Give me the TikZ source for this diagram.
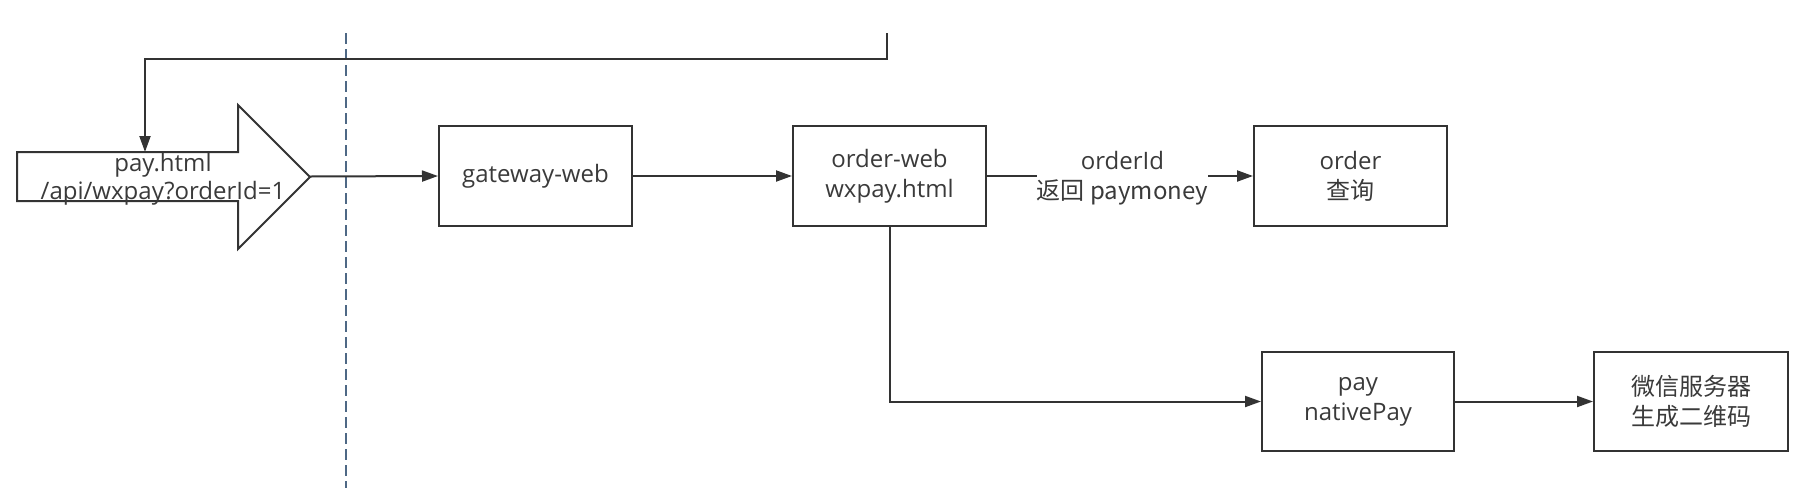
\documentclass[tikz,border=0pt]{standalone}
\usepackage{fontspec}
\setmainfont{Open Sans}
\newfontfamily\cjk{Noto Sans CJK SC}
\usetikzlibrary{arrows.meta}
\definecolor{ln}{HTML}{333333}
\definecolor{tx}{HTML}{3A3A3A}
\definecolor{dsh}{HTML}{4E6885}
\tikzset{
  box/.style={draw=ln, line width=2pt, minimum width=193pt, minimum height=100pt,
    inner sep=0pt, align=center, text=tx, font=\fontsize{24}{30}\selectfont},
  lbl/.style={inner sep=0pt, align=center, text=tx, font=\fontsize{24}{30}\selectfont},
  conn/.style={draw=ln, line width=2pt},
  arr/.style={conn, -{Triangle[length=16pt,width=11pt]}},
  dashline/.style={draw=dsh, line width=2pt, dash pattern=on 11pt off 5pt}
}
\begin{document}
\begin{tikzpicture}[x=1pt,y=-1pt]
\useasboundingbox (0,0) rectangle (1818,491);
% dashed separator
\coordinate (d1) at (346,33);
\coordinate (d2) at (346,488);
\draw[dashline] (d1) -- (d2);
% big source arrow
\draw[conn, fill=white] (17,152) -- (238,152) -- (238,105) -- (310,177) -- (238,249) -- (238,201) -- (17,201) -- cycle;
\coordinate (tip) at (310,176.5);
\coordinate (srctop) at (145,152);
\node[lbl, font=\fontsize{24}{28}\selectfont] (src) at (163,179) {pay.html\\/api/wxpay?orderId=1};
% boxes
\node[box] (gw) at (535.5,176) {gateway-web};
\node[box] (ow) at (889.5,176) {order-web\\wxpay.html};
\node[box] (od) at (1350.5,176) {order\\\cjk{查询}};
\node[box, minimum width=192pt, minimum height=99pt] (pay) at (1358,401.5) {pay\\nativePay};
\node[box, minimum width=194pt, minimum height=99pt] (wx) at (1691,401.5) {\cjk{微信服务器}\\\cjk{生成二维码}};
\node[lbl] (q) at (1122.5,178) {orderId\\\cjk{返回} paymoney};
% feedback
\coordinate (fb) at (887,33);
\draw[arr] (fb) -- (887,59) -| (srctop);
% connectors
\draw[arr] (tip) -- (gw.west);
\draw[arr] (gw.east) -- (ow.west);
\draw[conn] (ow.east) -- (ow.east -| q.west);
\draw[arr] (q.east |- od.west) -- (od.west);
\draw[arr] (ow.south) |- (pay.west);
\draw[arr] (pay.east) -- (wx.west);
\end{tikzpicture}
\end{document}
